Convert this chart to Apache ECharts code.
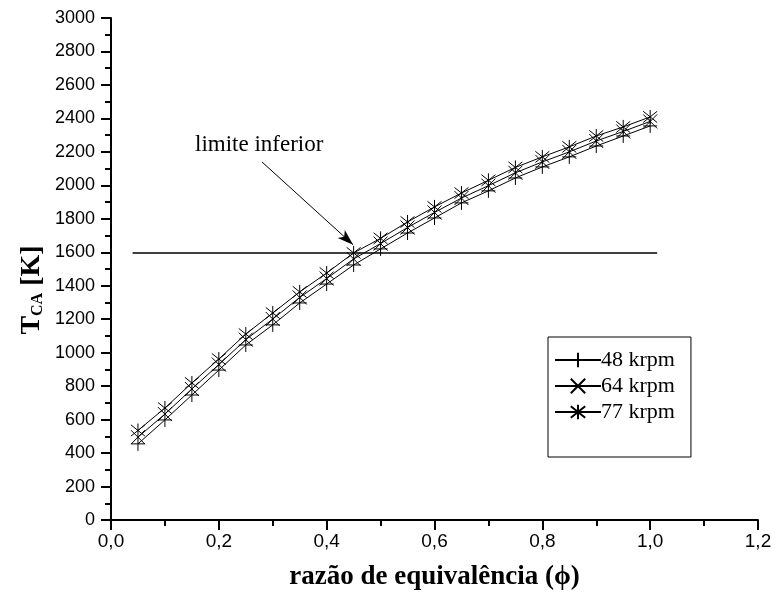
<!DOCTYPE html>
<html>
<head>
<meta charset="utf-8">
<script src="https://cdn.jsdelivr.net/npm/echarts@6/dist/echarts.min.js"></script>
<style>
html, body { margin: 0; padding: 0; background: #fff; }
#chart { width: 776px; height: 603px; }
</style>
</head>
<body>
<div id="chart"></div>
<script>
// razao de equivalencia (phi)
var phi = [0.05, 0.10, 0.15, 0.20, 0.25, 0.30, 0.35, 0.40, 0.45, 0.50,
           0.55, 0.60, 0.65, 0.70, 0.75, 0.80, 0.85, 0.90, 0.95, 1.00];
// T_CA [K]
var t48 = [455, 598, 747, 896, 1046, 1166, 1297, 1410, 1524, 1620,
           1715, 1805, 1895, 1967, 2044, 2110, 2170, 2235, 2295, 2355];
var t64 = [495, 633, 783, 929, 1078, 1201, 1330, 1443, 1560, 1652,
           1748, 1838, 1924, 1998, 2075, 2140, 2200, 2265, 2322, 2382];
var t77 = [535, 669, 819, 962, 1111, 1237, 1363, 1476, 1596, 1683,
           1781, 1871, 1954, 2030, 2107, 2170, 2230, 2295, 2349, 2409];
var seriesNames = ['48 krpm', '64 krpm', '77 krpm'];

// limite inferior
var limitLine = [[0.04, 1600], [1.013, 1600]];
var arrowFrom = [0.28, 2140];
var arrowTo = [0.449, 1645];

var symPlus = 'path://M0,-1L0,1M-1,0L1,0';
var symCross = 'path://M-1,-1L1,1M-1,1L1,-1';
var symStar = 'path://M0,-1L0,1M-0.8,-0.8L0.8,0.8M-0.8,0.8L0.8,-0.8';

function pairs(xs, ys) {
    var out = [];
    for (var i = 0; i < xs.length; i++) {
        out.push([xs[i], ys[i]]);
    }
    return out;
}

function makeSeries(name, values, symbol) {
    return {
        name: name,
        type: 'line',
        data: pairs(phi, values),
        symbol: symbol,
        symbolSize: 14,
        lineStyle: { color: '#000', width: 1 },
        itemStyle: { color: 'rgba(0,0,0,0)', borderColor: '#000', borderWidth: 1 }
    };
}

var chart = echarts.init(document.getElementById('chart'));

var s48 = makeSeries(seriesNames[0], t48, symPlus);
s48.markLine = {
    silent: true,
    symbol: ['none', 'none'],
    label: { show: false },
    lineStyle: { color: '#000', width: 1.5, type: 'solid' },
    data: [
        [{ coord: limitLine[0] }, { coord: limitLine[1] }],
        [{ coord: arrowFrom, lineStyle: { width: 1 } },
         { coord: arrowTo, symbol: 'arrow', symbolSize: [8, 16] }]
    ]
};

var axisCommon = {
    axisLine: { show: true, lineStyle: { color: '#000', width: 2 } },
    axisTick: { show: true, inside: false, length: 10, lineStyle: { color: '#000', width: 2 } },
    minorTick: { show: true, splitNumber: 2, length: 6, lineStyle: { color: '#000', width: 2 } },
    splitLine: { show: false }
};

var option = {
    animation: false,
    backgroundColor: '#fff',
    grid: { left: 111, right: 18, top: 18, bottom: 83 },
    xAxis: Object.assign({}, axisCommon, {
        type: 'value',
        min: 0,
        max: 1.2,
        interval: 0.2,
        name: 'razão de equivalência (ϕ)',
        nameLocation: 'middle',
        nameGap: 44,
        nameTextStyle: { color: '#000', fontSize: 27, fontWeight: 'bold', fontFamily: 'Liberation Serif' },
        axisLabel: {
            color: '#000', fontSize: 19, fontFamily: 'Liberation Sans', margin: 12,
            formatter: function (v) { return v.toFixed(1).replace('.', ','); }
        }
    }),
    yAxis: Object.assign({}, axisCommon, {
        type: 'value',
        min: 0,
        max: 3000,
        interval: 200,
        axisLabel: {
            color: '#000', fontSize: 18, fontFamily: 'Liberation Sans', margin: 16,
            formatter: function (v) { return String(v); }
        }
    }),
    legend: {
        orient: 'vertical',
        left: 548,
        top: 337,
        data: seriesNames,
        itemWidth: 46,
        itemHeight: 18,
        itemGap: 4,
        padding: [12, 16, 34, 6],
        borderColor: '#000',
        borderWidth: 1,
        backgroundColor: '#fff',
        selectedMode: false,
        textStyle: { color: '#000', fontSize: 22, fontFamily: 'Liberation Serif', padding: [0, 0, 0, -5] }
    },
    graphic: [
        {
            type: 'text',
            x: 32,
            y: 290,
            rotation: Math.PI / 2,
            style: {
                text: '{t|T}{s|CA}{t| [K]}',
                align: 'center',
                verticalAlign: 'middle',
                rich: {
                    t: { fontSize: 28, fontWeight: 'bold', fontFamily: 'Liberation Serif', fill: '#000' },
                    s: { fontSize: 16, fontWeight: 'bold', fontFamily: 'Liberation Serif', fill: '#000', verticalAlign: 'bottom' }
                }
            }
        },
        {
            type: 'text',
            x: 195,
            y: 133,
            style: {
                text: 'limite inferior',
                fontSize: 23,
                fontFamily: 'Liberation Serif',
                fill: '#000'
            }
        }
    ],
    series: [
        s48,
        makeSeries(seriesNames[1], t64, symCross),
        makeSeries(seriesNames[2], t77, symStar)
    ]
};

chart.setOption(option);
</script>
</body>
</html>
